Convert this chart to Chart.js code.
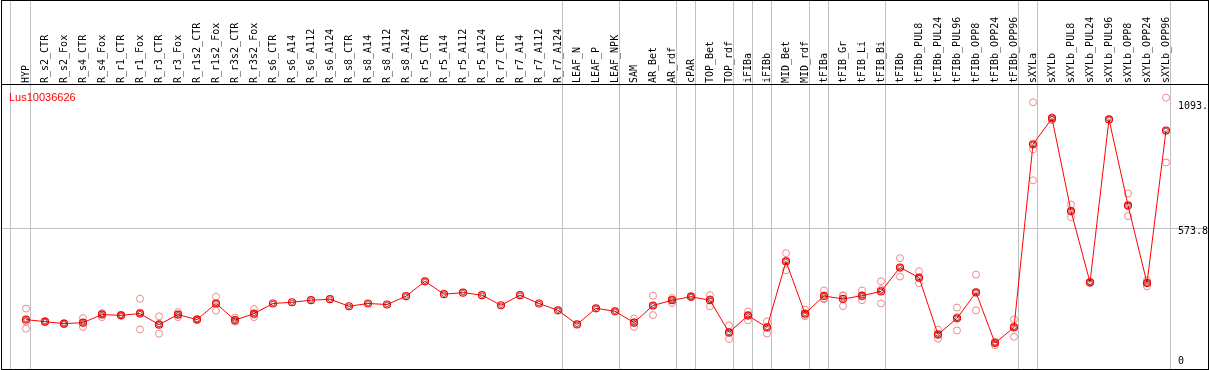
<!DOCTYPE html>
<html>
<head>
<meta charset="utf-8">
<script src="https://cdn.jsdelivr.net/npm/chart.js@4.4.0/dist/chart.umd.min.js"></script>
<style>
  html, body { margin:0; padding:0; background:#fff; overflow:hidden; }
  #wrap { width:1209px; height:370px; overflow:hidden; }
</style>
</head>
<body>
<div id="wrap"><canvas id="chart" width="1209" height="373"></canvas></div>
<script>
const geneName = 'Lus10036626';

const samples = ['HYP','R_s2_CTR','R_s2_Fox','R_s4_CTR','R_s4_Fox','R_r1_CTR','R_r1_Fox','R_r3_CTR','R_r3_Fox',
  'R_r1s2_CTR','R_r1s2_Fox','R_r3s2_CTR','R_r3s2_Fox','R_s6_CTR','R_s6_A14','R_s6_A112','R_s6_A124',
  'R_s8_CTR','R_s8_A14','R_s8_A112','R_s8_A124','R_r5_CTR','R_r5_A14','R_r5_A112','R_r5_A124',
  'R_r7_CTR','R_r7_A14','R_r7_A112','R_r7_A124','LEAF_N','LEAF_P','LEAF_NPK','SAM','AR_Bet','AR_rdf',
  'cPAR','TOP_Bet','TOP_rdf','iFIBa','iFIBb','MID_Bet','MID_rdf','tFIBa','tFIB_Gr','tFIB_Li','tFIB_Bi',
  'tFIBb','tFIBb_PUL8','tFIBb_PUL24','tFIBb_PUL96','tFIBb_OPP8','tFIBb_OPP24','tFIBb_OPP96',
  'sXYLa','sXYLb','sXYLb_PUL8','sXYLb_PUL24','sXYLb_PUL96','sXYLb_OPP8','sXYLb_OPP24','sXYLb_OPP96'];

// mean expression per sample
const means = [212,204,196,200,232,229,236,192,232,212,276,210,236,
  276,281,289,293,265,276,272,305,364,313,319,309,269,309,276,249,
  193,257,245,200,268,289,303,289,161,228,181,443,236,
  306,294,307,324,419,379,153,217,320,119,181,
  908,1011,643,360,1007,666,357,963];

// replicate values per sample (empty = hidden under the mean)
const reps = [[256,176,204],[206,202],[198,194],[218,183,199],[238,222,236],[231,227],[295,173,240],
  [225,156,195],[242,222,232],[214,210],[303,248,277],[220,206,204],[254,222,232],
  [],[],[],[],[],[],[],[],[],[],[],[],[],[],[],[],[],[],[],
  [216,183,201],[307,230,267],[298,278,291],[305,301],[309,265,293],[189,135,159],[244,209,231],
  [205,157,181],[476,408,445],[252,225,231],[328,293,297],[307,266,309],[328,289,304],[364,276,332],
  [456,383,418],[404,357,376],[172,136,151],[260,169,222],[391,249,320],[110,124,123],[213,144,186],
  [1075,888,765],[1015,1004,1014],[669,619,641],[363,357],[1007],[713,623,662],[368,344,359],[1093.3,836,962]];

// separators between sample groups (in sample index units)
const groupEdges = [-0.8,0.25,28.25,31.25,34.25,35.25,37.25,38.25,39.25,41.25,42.25,45.25,52.25,53.25,60.25];

const yMax = 1147.6;
const yGrid = [573.8];
const yTicks = [0, 573.8, 1093.3];
const yTickLabels = ['0', '573.8', '1093.'];

const xMin = -24/19, xMax = xMin + 1206/19;

const meanPts = means.map((v,i)=>({x:i, y:v}));
const repPts = reps.flatMap((arr,i)=>arr.map(v=>({x:i, y:v})));

function noPad(s){ s.paddingLeft = 0; s.paddingRight = 0; s.paddingTop = 0; s.paddingBottom = 0; }

const framePlugin = {
  id:'frame',
  beforeDraw(chart){
    const ctx = chart.ctx, xs = chart.scales.x, top = chart.chartArea.top;
    ctx.save();
    ctx.strokeStyle = '#c0c0c0'; ctx.lineWidth = 1;
    groupEdges.forEach(v=>{
      const px = Math.round(xs.getPixelForValue(v) - 0.5) + 0.5;
      ctx.beginPath(); ctx.moveTo(px, 0); ctx.lineTo(px, top); ctx.stroke();
    });
    ctx.restore();
  },
  afterDraw(chart){
    const ctx = chart.ctx, top = chart.chartArea.top, ys = chart.scales.y;
    ctx.save();
    ctx.font = '10px "DejaVu Sans Mono"'; ctx.fillStyle = '#000';
    ctx.textBaseline = 'middle'; ctx.textAlign = 'left';
    yTicks.forEach((v,i)=>{
      let py = ys.getPixelForValue(v) + 2.5;
      py = Math.min(Math.max(py, top + 22), 361);
      ctx.fillText(yTickLabels[i], 1178, py);
    });
    ctx.font = '11px "Liberation Sans"'; ctx.fillStyle = '#f00'; ctx.textBaseline = 'alphabetic';
    ctx.fillText(geneName, 9, 101);
    ctx.strokeStyle = '#000'; ctx.lineWidth = 1;
    ctx.strokeRect(1.5, 0.5, 1207, 369);
    ctx.beginPath(); ctx.moveTo(1, top + 0.5); ctx.lineTo(1209, top + 0.5); ctx.stroke();
    ctx.restore();
  }
};

new Chart(document.getElementById('chart'), {
  type:'scatter',
  data:{
    datasets:[
      { data: meanPts, showLine:true, borderColor:'#f00', borderWidth:1,
        pointRadius:3.5, pointBorderWidth:1.2, pointBorderColor:'#f00', pointBackgroundColor:'rgba(0,0,0,0)', order:1 },
      { data: meanPts, showLine:false, pointRadius:2.2, pointBorderWidth:0.9,
        pointBorderColor:'rgba(60,0,0,0.7)', pointBackgroundColor:'rgba(0,0,0,0)', order:0 },
      { data: repPts, showLine:false, pointRadius:3.5, pointBorderWidth:1,
        pointBorderColor:'#ec8a8a', pointBackgroundColor:'rgba(0,0,0,0)', order:2 }
    ]
  },
  options:{
    responsive:false, animation:false, devicePixelRatio:1,
    layout:{ autoPadding:false, padding:{ left:2, right:1, top:0, bottom:0 } },
    plugins:{ legend:{display:false}, tooltip:{enabled:false}, title:{display:false} },
    scales:{
      top:{
        type:'linear', position:'top', min:xMin, max:xMax,
        afterBuildTicks: s => { s.ticks = samples.map((_,i)=>({value:i})); },
        afterFit: s => { s.height = 84; noPad(s); },
        grid:{ display:false, drawTicks:false },
        border:{ display:false },
        ticks:{ autoSkip:false, maxRotation:90, minRotation:90, padding:1, labelOffset:12, color:'#000',
          font:{ family:'DejaVu Sans Mono', size:10 },
          callback:(v, i) => samples[i] }
      },
      x:{
        type:'linear', position:'bottom', min:xMin, max:xMax,
        afterBuildTicks: s => { s.ticks = groupEdges.map(v=>({value:v})); },
        afterFit: s => { s.height = 0; noPad(s); },
        grid:{ color:'#c0c0c0', lineWidth:1, drawTicks:false },
        border:{ display:false },
        ticks:{ display:false }
      },
      y:{
        type:'linear', position:'right', min:0, max:yMax,
        afterBuildTicks: s => { s.ticks = yGrid.map(v=>({value:v})); },
        afterFit: s => { s.width = 0; noPad(s); },
        grid:{ color:'#c0c0c0', lineWidth:1, drawTicks:false },
        border:{ display:false },
        ticks:{ display:false }
      }
    }
  },
  plugins:[framePlugin]
});
</script>
</body>
</html>
